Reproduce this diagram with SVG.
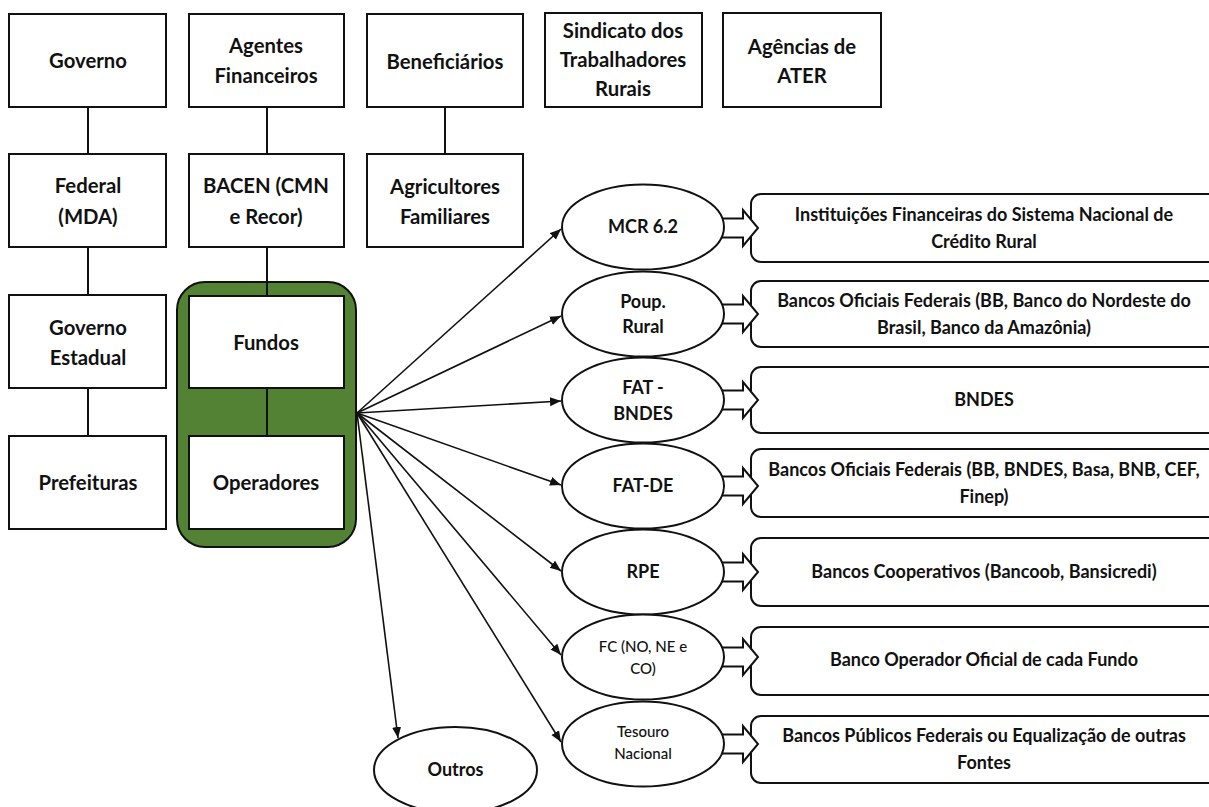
<svg xmlns="http://www.w3.org/2000/svg" width="1209" height="807" viewBox="0 0 1209 807">
<style>
text{font-family:Lato,"Open Sans","Liberation Sans",sans-serif;font-weight:bold;fill:#111;text-anchor:middle}
.t20{font-size:20.3px}
.t17{font-size:18px}
.t18{font-size:18px}
.t15{font-size:15px;font-weight:500}
.box{fill:#fff;stroke:#111;stroke-width:2}
.rbox{fill:#fff;stroke:#111;stroke-width:2}
.ell{fill:#fff;stroke:#111;stroke-width:2}
.link{fill:none;stroke:#111;stroke-width:2}
.fan{fill:none;stroke:#111;stroke-width:1.6;marker-end:url(#ah)}
.blk{fill:#fff;stroke:#111;stroke-width:2;stroke-linejoin:miter}
</style>
<defs>
<marker id="ah" markerUnits="userSpaceOnUse" markerWidth="12" markerHeight="10" refX="11" refY="4.5" orient="auto">
<path d="M0,0 L11,4.5 L0,9 z" fill="#111"/>
</marker>
</defs>
<rect width="1209" height="807" fill="#fff"/>

<g id="container">
<rect x="177" y="282" width="179" height="265" rx="28" fill="#548235" stroke="#111" stroke-width="2"/>
</g>

<g id="links">
<line class="link" x1="88" y1="107" x2="88" y2="154"/>
<line class="link" x1="88" y1="247" x2="88" y2="295"/>
<line class="link" x1="88" y1="388" x2="88" y2="436"/>
<line class="link" x1="267" y1="107" x2="267" y2="154"/>
<line class="link" x1="267" y1="247" x2="267" y2="296"/>
<line class="link" x1="267" y1="388" x2="267" y2="436"/>
<line class="link" x1="445" y1="107" x2="445" y2="154"/>
</g>

<g id="governo"><rect class="box" x="9" y="14" width="157" height="93"/><text class="t20" x="88" y="68">Governo</text></g>
<g id="agentes"><rect class="box" x="189" y="14" width="155" height="93"/><text class="t20" x="266" y="53">Agentes</text><text class="t20" x="266" y="83">Financeiros</text></g>
<g id="beneficiarios"><rect class="box" x="367" y="14" width="156" height="93"/><text class="t20" x="445" y="69">Beneficiários</text></g>
<g id="sindicato"><rect class="box" x="545" y="13" width="157" height="94"/><text class="t20" x="623" y="38">Sindicato dos</text><text class="t20" x="623" y="67">Trabalhadores</text><text class="t20" x="623" y="96">Rurais</text></g>
<g id="agencias"><rect class="box" x="723" y="13" width="158" height="94"/><text class="t20" x="802" y="54">Agências de</text><text class="t20" x="802" y="83">ATER</text></g>

<g id="federal"><rect class="box" x="9" y="154" width="157" height="93"/><text class="t20" x="88" y="193">Federal</text><text class="t20" x="88" y="224">(MDA)</text></g>
<g id="bacen"><rect class="box" x="189" y="154" width="155" height="93"/><text class="t20" x="266" y="193">BACEN (CMN</text><text class="t20" x="266" y="224">e Recor)</text></g>
<g id="agricultores"><rect class="box" x="367" y="154" width="156" height="93"/><text class="t20" x="445" y="194">Agricultores</text><text class="t20" x="445" y="224">Familiares</text></g>

<g id="governo-estadual"><rect class="box" x="9" y="295" width="157" height="93"/><text class="t20" x="88" y="335">Governo</text><text class="t20" x="88" y="365">Estadual</text></g>
<g id="prefeituras"><rect class="box" x="9" y="436" width="157" height="93"/><text class="t20" x="88" y="490">Prefeituras</text></g>
<g id="fundos"><rect class="box" x="189" y="296" width="155" height="92"/><text class="t20" x="266" y="350">Fundos</text></g>
<g id="operadores"><rect class="box" x="189" y="436" width="155" height="93"/><text class="t20" x="266" y="490">Operadores</text></g>

<g id="inst-sncr"><rect class="rbox" x="751" y="194" width="470" height="68" rx="10"/><text class="t17" x="984" y="221">Instituições Financeiras do Sistema Nacional de</text><text class="t17" x="984" y="248">Crédito Rural</text></g>
<g id="bancos-oficiais-1"><rect class="rbox" x="751" y="281" width="470" height="66" rx="10"/><text class="t17" x="984" y="307">Bancos Oficiais Federais (BB, Banco do Nordeste do</text><text class="t17" x="984" y="334">Brasil, Banco da Amazônia)</text></g>
<g id="bndes"><rect class="rbox" x="751" y="367" width="470" height="66" rx="10"/><text class="t17" x="984" y="406">BNDES</text></g>
<g id="bancos-oficiais-2"><rect class="rbox" x="751" y="449" width="470" height="68" rx="10"/><text class="t17" x="984" y="476">Bancos Oficiais Federais (BB, BNDES, Basa, BNB, CEF,</text><text class="t17" x="984" y="503">Finep)</text></g>
<g id="bancos-coop"><rect class="rbox" x="751" y="538" width="470" height="68" rx="10"/><text class="t17" x="984" y="578">Bancos Cooperativos (Bancoob, Bansicredi)</text></g>
<g id="banco-operador"><rect class="rbox" x="751" y="627" width="470" height="68" rx="10"/><text class="t17" x="984" y="666">Banco Operador Oficial de cada Fundo</text></g>
<g id="bancos-publicos"><rect class="rbox" x="751" y="716" width="470" height="67" rx="10"/><text class="t17" x="984" y="742">Bancos Públicos Federais ou Equalização de outras</text><text class="t17" x="984" y="769">Fontes</text></g>

<g id="connectors">
<line class="fan" x1="357" y1="413" x2="561" y2="229"/>
<line class="fan" x1="357" y1="413" x2="561" y2="316"/>
<line class="fan" x1="357" y1="413" x2="561" y2="401"/>
<line class="fan" x1="357" y1="413" x2="561" y2="485"/>
<line class="fan" x1="357" y1="413" x2="561" y2="571"/>
<line class="fan" x1="357" y1="413" x2="561" y2="655"/>
<line class="fan" x1="357" y1="413" x2="561" y2="742"/>
<line class="fan" x1="357" y1="413" x2="398" y2="738"/>
<path class="blk" d="M712,218.5 H743 V210 L758,228 L743,246 V237.5 H712"/>
<path class="blk" d="M712,304.5 H743 V296 L758,314 L743,332 V323.5 H712"/>
<path class="blk" d="M712,390.5 H743 V382 L758,400 L743,418 V409.5 H712"/>
<path class="blk" d="M712,476.5 H743 V468 L758,486 L743,504 V495.5 H712"/>
<path class="blk" d="M712,562.5 H743 V554 L758,572 L743,590 V581.5 H712"/>
<path class="blk" d="M712,647.5 H743 V639 L758,657 L743,675 V666.5 H712"/>
<path class="blk" d="M712,734.5 H743 V726 L758,744 L743,762 V753.5 H712"/>
</g>

<g id="mcr"><ellipse class="ell" cx="643" cy="227" rx="81" ry="42.5"/><text class="t18" x="643" y="233">MCR 6.2</text></g>
<g id="poup"><ellipse class="ell" cx="643" cy="314" rx="81" ry="42.5"/><text class="t18" x="643" y="308">Poup.</text><text class="t18" x="643" y="333">Rural</text></g>
<g id="fat-bndes"><ellipse class="ell" cx="643" cy="400" rx="81" ry="42.5"/><text class="t18" x="643" y="394">FAT -</text><text class="t18" x="643" y="420">BNDES</text></g>
<g id="fat-de"><ellipse class="ell" cx="643" cy="486" rx="81" ry="42.5"/><text class="t18" x="643" y="492">FAT-DE</text></g>
<g id="rpe"><ellipse class="ell" cx="643" cy="572" rx="81" ry="42.5"/><text class="t18" x="643" y="578">RPE</text></g>
<g id="fc"><ellipse class="ell" cx="643" cy="657" rx="81" ry="42.5"/><text class="t15" x="643" y="652">FC (NO, NE e</text><text class="t15" x="643" y="674">CO)</text></g>
<g id="tesouro"><ellipse class="ell" cx="643" cy="744" rx="81" ry="42.5"/><text class="t15" x="643" y="737">Tesouro</text><text class="t15" x="643" y="759">Nacional</text></g>
<g id="outros"><ellipse class="ell" cx="455.5" cy="770" rx="81.5" ry="43"/><text class="t18" x="455.5" y="776">Outros</text></g>
</svg>
